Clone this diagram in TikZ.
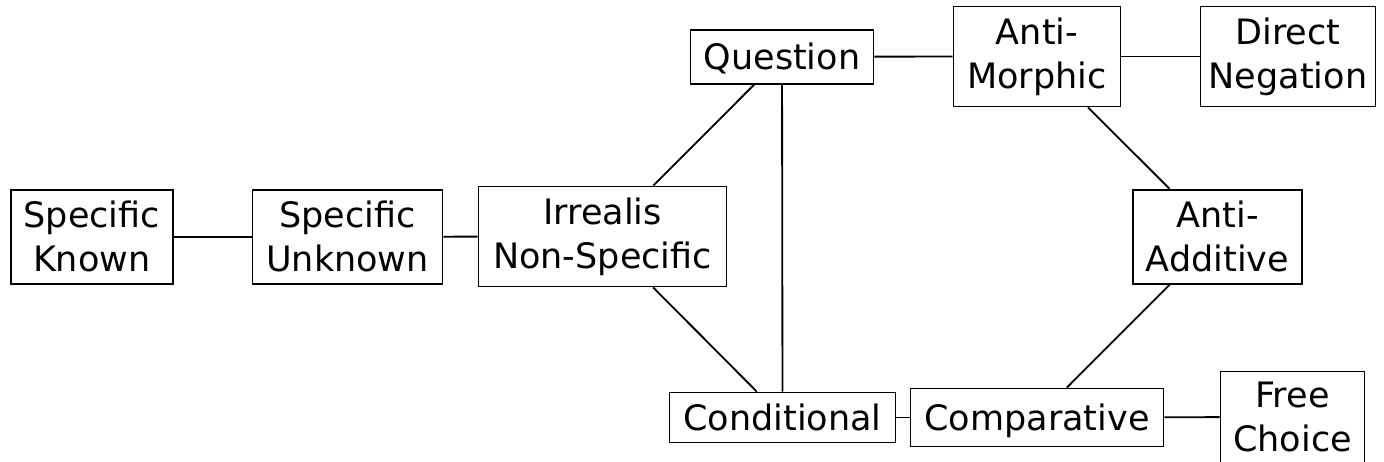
\documentclass[tikz,border=0pt]{standalone}
\usepackage{fontspec}
\setmainfont{DejaVu Sans}
\begin{document}
\begin{tikzpicture}[x=0.3pt,y=-0.3pt,line width=0.55pt,
  cat/.style={draw,align=center,inner sep=0pt,font=\fontsize{10.5}{13.2}\selectfont},
  oneline/.style={text depth=0pt}]
  \useasboundingbox (0,0) rectangle (1384,462);

  % 左侧三个框
  \node[cat,minimum width=48.6pt,minimum height=28.2pt] (sk) at (91.7,236.8) {Specific\\Known};
  \node[cat,minimum width=57pt,minimum height=28.2pt] (su) at (347.5,236.8) {Specific\\Unknown};
  \node[cat,minimum width=74.4pt,minimum height=30pt] (ir) at (602.5,236.5) {Irrealis\\Non-Specific};

  % 上面一行
  \node[cat,oneline,minimum width=54.9pt,minimum height=16.2pt] (q) at (782,56.7) {Question};
  \node[cat,minimum width=50.1pt,minimum height=30pt] (am) at (1037,56.5) {Anti-\\Morphic};
  \node[cat,minimum width=52.5pt,minimum height=30pt] (dn) at (1288,56.5) {Direct\\Negation};
  \node[cat,minimum width=50.7pt,minimum height=28.2pt] (aa) at (1217.5,236.7) {Anti-\\Additive};

  % 下面一行
  \node[cat,oneline,minimum width=67.8pt,minimum height=15pt] (cond) at (782.5,417.5) {Conditional};
  \node[cat,oneline,minimum width=75.9pt,minimum height=17.4pt] (comp) at (1037,417.5) {Comparative};
  \node[cat,minimum width=43.2pt,minimum height=27.3pt] (fc) at (1292.5,417) {Free\\Choice};

  % 连线
  \draw (sk) -- (su);
  \draw (su) -- (ir);
  \draw (ir) -- (q);
  \draw (ir) -- (cond);
  \draw (q) -- (cond);
  \draw (q) -- (am);
  \draw (am) -- (dn);
  \draw (am) -- (aa);
  \draw (aa) -- (comp);
  \draw (cond) -- (comp);
  \draw (comp) -- (fc);
\end{tikzpicture}
\end{document}
